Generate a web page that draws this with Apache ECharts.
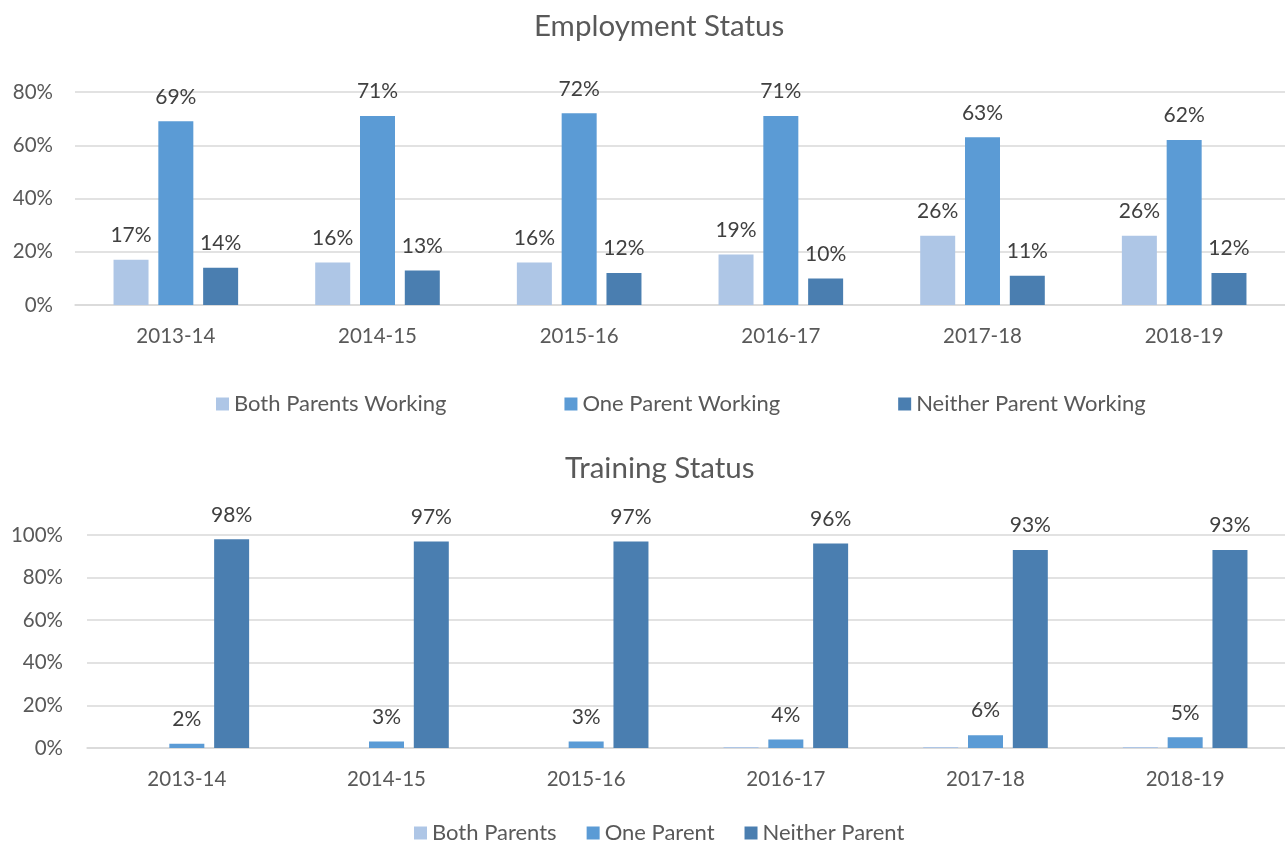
<!DOCTYPE html>
<html><head><meta charset="utf-8">
<script src="https://cdn.jsdelivr.net/npm/echarts@6/dist/echarts.min.js"></script>
<style>html,body{margin:0;padding:0;background:#fff}#c{width:1285px;height:842px}</style>
</head><body><div id="c"></div>
<script>
const categories = ['2013-14','2014-15','2015-16','2016-17','2017-18','2018-19'];
const empBoth = [17,16,16,19,26,26];
const empOne = [69,71,72,71,63,62];
const empNeither = [14,13,12,10,11,12];
const trBoth = [0,0,0,0.5,0.5,0.5];
const trOne = [2,3,3,4,6,5];
const trNeither = [98,97,97,96,93,93];
const empTicks = [0,20,40,60,80];
const trTicks = [0,20,40,60,80,100];

const C1='#AEC6E6', C2='#5B9BD5', C3='#4A7EB0';
const FONT='Lato';
const txt='#595959';
const chart = echarts.init(document.getElementById('c'));
function lbl(show){return {show:show,position:'top',distance:14,formatter:p=>p.value+'%',color:'#404040',fontSize:21,fontFamily:FONT};}
function bar(name,data,color,idx,show){
  return {name:name,type:'bar',xAxisIndex:idx,yAxisIndex:idx,data:data,barWidth:35,barGap:'28%',
    itemStyle:{color:color},label:lbl(show),emphasis:{disabled:true}};
}
const xa=(idx)=>({type:'category',gridIndex:idx,data:categories,axisTick:{show:false},
  axisLine:{lineStyle:{color:'#d9d9d9',width:1.5}},
  axisLabel:{color:txt,fontSize:20.5,fontFamily:FONT,margin:21}});
const ya=(idx,max,margin,ticks)=>({type:'value',gridIndex:idx,min:ticks[0],max:max,interval:ticks[1]-ticks[0],
  axisLabel:{formatter:'{value}%',color:txt,fontSize:20.5,fontFamily:FONT,margin:margin},
  splitLine:{lineStyle:{color:'#d9d9d9',width:1.5}},axisLine:{show:false},axisTick:{show:false}});
chart.setOption({
  animation:false,
  title:[
    {text:'Employment Status',left:529,top:6,textStyle:{color:txt,fontSize:29.5,fontWeight:'normal',fontFamily:FONT}},
    {text:'Training Status',left:560,top:448,textStyle:{color:txt,fontSize:29.5,fontWeight:'normal',fontFamily:FONT}}
  ],
  legend:[
    {data:['Both Parents Working','One Parent Working','Neither Parent Working'],top:388,left:211,
     itemWidth:13,itemHeight:13,itemGap:118,icon:'rect',textStyle:{color:txt,fontSize:22,fontFamily:FONT}},
    {data:['Both Parents','One Parent','Neither Parent'],top:817,left:409,
     itemWidth:13,itemHeight:13,itemGap:30,icon:'rect',textStyle:{color:txt,fontSize:22,fontFamily:FONT}}
  ],
  grid:[
    {left:75,right:0,top:92,height:213},
    {left:87,right:-2,top:535,height:213}
  ],
  xAxis:[xa(0),xa(1)],
  yAxis:[ya(0,80,22,empTicks),ya(1,100,24,trTicks)],
  series:[
    bar('Both Parents Working',empBoth,C1,0,true),
    bar('One Parent Working',empOne,C2,0,true),
    bar('Neither Parent Working',empNeither,C3,0,true),
    bar('Both Parents',trBoth,C1,1,false),
    bar('One Parent',trOne,C2,1,true),
    bar('Neither Parent',trNeither,C3,1,true)
  ]
});
</script></body></html>
